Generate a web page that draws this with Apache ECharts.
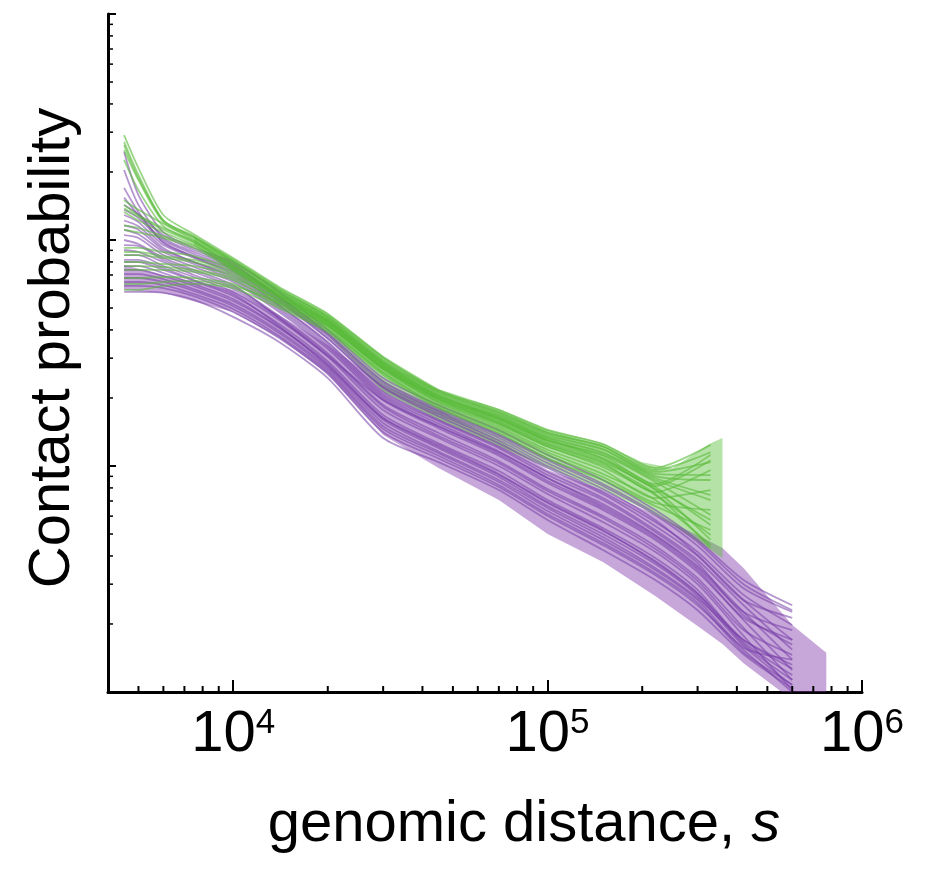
<!DOCTYPE html>
<html>
<head>
<meta charset="utf-8">
<script src="https://cdn.jsdelivr.net/npm/echarts@6/dist/echarts.min.js"></script>
<style>
  html, body { margin: 0; padding: 0; background: #ffffff; }
  #chart { width: 930px; height: 870px; }
</style>
</head>
<body>
<div id="chart"></div>
<script>
// ---------- data ----------
const xGreen = [4500, 5000, 6000, 7500, 10000, 14000, 20000, 30000, 45000, 70000, 100000, 150000, 220000, 330000];
const xPurple = [4500, 5000, 6000, 7500, 10000, 14000, 20000, 30000, 45000, 70000, 100000, 150000, 220000, 300000, 420000, 600000];

const green01 = [0.291, 0.208, 0.129, 0.106, 0.0833, 0.0620, 0.0471, 0.0304, 0.0217, 0.0177, 0.0144, 0.0125, 0.0098, 0.0124];
const green02 = [0.272, 0.194, 0.122, 0.104, 0.0816, 0.0607, 0.0457, 0.0294, 0.0213, 0.0172, 0.0140, 0.0122, 0.00941, 0.0104];
const green03 = [0.250, 0.184, 0.120, 0.102, 0.0799, 0.0595, 0.0452, 0.0288, 0.0208, 0.0168, 0.0136, 0.0118, 0.00903, 0.00867];
const green04 = [0.150, 0.136, 0.118, 0.100, 0.0791, 0.0589, 0.0443, 0.0285, 0.0204, 0.0165, 0.0133, 0.0114, 0.00867, 0.00707];
const green05 = [0.143, 0.129, 0.113, 0.0980, 0.0775, 0.0577, 0.0439, 0.0280, 0.0202, 0.0162, 0.0130, 0.0111, 0.00833, 0.0112];
const green06 = [0.133, 0.122, 0.108, 0.0950, 0.0752, 0.0565, 0.0430, 0.0277, 0.0198, 0.0158, 0.0127, 0.0106, 0.00791, 0.00577];
const green07 = [0.0922, 0.0922, 0.0885, 0.0849, 0.0737, 0.0554, 0.0425, 0.0272, 0.0196, 0.0155, 0.0124, 0.0103, 0.00767, 0.00960];
const green08 = [0.0858, 0.0858, 0.0833, 0.0799, 0.0707, 0.0543, 0.0417, 0.0269, 0.0192, 0.0152, 0.0122, 0.00990, 0.00744, 0.00495];
const green09 = [0.0799, 0.0799, 0.0783, 0.0767, 0.0693, 0.0532, 0.0412, 0.0266, 0.0190, 0.0149, 0.0118, 0.00960, 0.00722, 0.00783];
const green10 = [0.0737, 0.0737, 0.0737, 0.0722, 0.0665, 0.0521, 0.0404, 0.0260, 0.0186, 0.0146, 0.0115, 0.00922, 0.00707, 0.00447];
const green11 = [0.0679, 0.0679, 0.0686, 0.0679, 0.0639, 0.0510, 0.0400, 0.0258, 0.0183, 0.0143, 0.0112, 0.00894, 0.00686, 0.00639];
const green12 = [0.0601, 0.0601, 0.0626, 0.0639, 0.0613, 0.0500, 0.0392, 0.0253, 0.0180, 0.0140, 0.0108, 0.00867, 0.00665, 0.00521];
const green13 = [0.226, 0.166, 0.115, 0.0990, 0.0767, 0.0571, 0.0434, 0.0274, 0.0200, 0.0160, 0.0129, 0.0108, 0.00816, 0.0106];
const green14 = [0.111, 0.108, 0.102, 0.0922, 0.0737, 0.0559, 0.0421, 0.0269, 0.0194, 0.0154, 0.0122, 0.0101, 0.00752, 0.00434];
const green15 = [0.263, 0.188, 0.122, 0.103, 0.0807, 0.0601, 0.0461, 0.0300, 0.0215, 0.0174, 0.0141, 0.0122, 0.00960, 0.0115];
const green16 = [0.138, 0.127, 0.111, 0.0970, 0.0767, 0.0583, 0.0447, 0.0291, 0.0211, 0.0170, 0.0138, 0.0119, 0.00922, 0.00912];
const green17 = [0.0885, 0.0885, 0.0849, 0.0816, 0.0722, 0.0559, 0.0434, 0.0283, 0.0204, 0.0166, 0.0134, 0.0115, 0.00885, 0.00744];
const green18 = [0.0767, 0.0767, 0.0760, 0.0737, 0.0679, 0.0543, 0.0425, 0.0277, 0.0200, 0.0162, 0.0130, 0.0112, 0.00849, 0.00607];
const green19 = [0.116, 0.113, 0.104, 0.0941, 0.0752, 0.0571, 0.0439, 0.0285, 0.0206, 0.0163, 0.0132, 0.0108, 0.00807, 0.00548];
const green20 = [0.0639, 0.0639, 0.0652, 0.0659, 0.0626, 0.0526, 0.0417, 0.0272, 0.0198, 0.0156, 0.0125, 0.0104, 0.00783, 0.00471];

const purple01 = [0.245, 0.158, 0.108, 0.0922, 0.0799, 0.0589, 0.0400, 0.0245, 0.0186, 0.0144, 0.0112, 0.00867, 0.00639, 0.00471, 0.00313, 0.00242];
const purple02 = [0.204, 0.143, 0.102, 0.0885, 0.0767, 0.0565, 0.0383, 0.0235, 0.0177, 0.0136, 0.0106, 0.00816, 0.00607, 0.00443, 0.00288, 0.00226];
const purple03 = [0.170, 0.133, 0.0970, 0.0849, 0.0737, 0.0543, 0.0368, 0.0224, 0.0170, 0.0130, 0.0100, 0.00767, 0.00565, 0.00417, 0.00269, 0.00198];
const purple04 = [0.143, 0.130, 0.105, 0.0903, 0.0783, 0.0554, 0.0376, 0.0230, 0.0174, 0.0133, 0.0103, 0.00791, 0.00577, 0.00404, 0.00255, 0.00170];
const purple05 = [0.129, 0.120, 0.0950, 0.0833, 0.0707, 0.0516, 0.0354, 0.0213, 0.0160, 0.0122, 0.00941, 0.00722, 0.00521, 0.00383, 0.00242, 0.00154];
const purple06 = [0.116, 0.111, 0.0903, 0.0799, 0.0679, 0.0500, 0.0343, 0.0204, 0.0154, 0.0116, 0.00885, 0.00679, 0.00495, 0.00361, 0.00226, 0.00139];
const purple07 = [0.105, 0.102, 0.0858, 0.0760, 0.0652, 0.0480, 0.0329, 0.0196, 0.0147, 0.0111, 0.00841, 0.00639, 0.00471, 0.00339, 0.00208, 0.00125];
const purple08 = [0.0950, 0.0941, 0.0816, 0.0722, 0.0620, 0.0461, 0.0316, 0.0186, 0.0140, 0.0105, 0.00791, 0.00601, 0.00443, 0.00319, 0.00192, 0.00113];
const purple09 = [0.0858, 0.0858, 0.0767, 0.0686, 0.0589, 0.0443, 0.0304, 0.0177, 0.0133, 0.0100, 0.00752, 0.00565, 0.00417, 0.00300, 0.00177, 0.00102];
const purple10 = [0.0799, 0.0799, 0.0737, 0.0659, 0.0565, 0.0425, 0.0291, 0.0168, 0.0126, 0.00950, 0.00707, 0.00532, 0.00392, 0.00283, 0.00166, 0.00119];
const purple11 = [0.0737, 0.0737, 0.0693, 0.0626, 0.0537, 0.0408, 0.0280, 0.0160, 0.0120, 0.00894, 0.00665, 0.00500, 0.00368, 0.00266, 0.00160, 0.00107];
const purple12 = [0.0679, 0.0679, 0.0652, 0.0595, 0.0510, 0.0388, 0.0266, 0.0150, 0.0114, 0.00849, 0.00632, 0.00471, 0.00347, 0.00255, 0.00157, 0.00139];
const purple13 = [0.0626, 0.0626, 0.0613, 0.0565, 0.0480, 0.0368, 0.0255, 0.0141, 0.0108, 0.00807, 0.00601, 0.00447, 0.00329, 0.00242, 0.00154, 0.00100];
const purple14 = [0.0589, 0.0589, 0.0583, 0.0543, 0.0457, 0.0354, 0.0245, 0.0133, 0.0104, 0.00783, 0.00577, 0.00425, 0.00313, 0.00230, 0.00147, 0.00104];
const purple15 = [0.100, 0.0960, 0.0833, 0.0737, 0.0632, 0.0452, 0.0307, 0.0196, 0.0150, 0.0115, 0.00885, 0.00665, 0.00490, 0.00354, 0.00226, 0.00188];
const purple16 = [0.0816, 0.0816, 0.0752, 0.0665, 0.0577, 0.0417, 0.0277, 0.0163, 0.0124, 0.00922, 0.00693, 0.00521, 0.00376, 0.00272, 0.00170, 0.00127];
const purple17 = [0.154, 0.129, 0.100, 0.0867, 0.0752, 0.0559, 0.0388, 0.0238, 0.0180, 0.0138, 0.0108, 0.00833, 0.00620, 0.00461, 0.00300, 0.00230];
const purple18 = [0.136, 0.125, 0.0980, 0.0841, 0.0722, 0.0532, 0.0365, 0.0222, 0.0166, 0.0126, 0.00980, 0.00752, 0.00543, 0.00400, 0.00255, 0.00213];
const purple19 = [0.122, 0.115, 0.0922, 0.0799, 0.0693, 0.0510, 0.0350, 0.0208, 0.0158, 0.0120, 0.00912, 0.00707, 0.00510, 0.00372, 0.00219, 0.00162];
const purple20 = [0.0903, 0.0885, 0.0799, 0.0700, 0.0607, 0.0452, 0.0310, 0.0183, 0.0136, 0.0103, 0.00775, 0.00589, 0.00430, 0.00310, 0.00188, 0.00146];
const purple21 = [0.0767, 0.0767, 0.0714, 0.0639, 0.0548, 0.0412, 0.0285, 0.0163, 0.0122, 0.00912, 0.00686, 0.00516, 0.00380, 0.00274, 0.00163, 0.00113];
const purple22 = [0.0707, 0.0707, 0.0672, 0.0607, 0.0521, 0.0396, 0.0272, 0.0155, 0.0116, 0.00867, 0.00652, 0.00485, 0.00354, 0.00260, 0.00170, 0.00132];
const purple23 = [0.0652, 0.0652, 0.0632, 0.0577, 0.0495, 0.0376, 0.0260, 0.0146, 0.0111, 0.00824, 0.00613, 0.00457, 0.00336, 0.00248, 0.00150, 0.00108];
const purple24 = [0.111, 0.106, 0.0885, 0.0783, 0.0665, 0.0490, 0.0336, 0.0200, 0.0150, 0.0113, 0.00858, 0.00652, 0.00480, 0.00347, 0.00213, 0.00170];

const xGreenBand = [7500, 10000, 14000, 20000, 30000, 45000, 70000, 100000, 150000, 200000, 250000, 330000, 360000];
const greenBandUpper = [0.104, 0.0833, 0.0620, 0.0475, 0.0307, 0.0219, 0.0179, 0.0146, 0.0126, 0.0104, 0.00980, 0.0126, 0.0133];
const greenBandLower = [0.0950, 0.0722, 0.0516, 0.0380, 0.0213, 0.0160, 0.0122, 0.00980, 0.00783, 0.00652, 0.00548, 0.00425, 0.00392];

const xPurpleBand = [4500, 6000, 10000, 14000, 20000, 30000, 45000, 70000, 100000, 150000, 220000, 300000, 360000, 420000, 600000, 770000];
const purpleBandUpper = [0.0775, 0.0700, 0.0601, 0.0466, 0.0343, 0.0228, 0.0177, 0.0130, 0.00960, 0.00783, 0.00607, 0.00495, 0.00434, 0.00354, 0.00198, 0.00149];
const purpleBandLower = [0.0601, 0.0583, 0.0480, 0.0368, 0.0255, 0.0137, 0.00980, 0.00707, 0.00500, 0.00376, 0.00266, 0.00196, 0.00163, 0.00134, 0.000922, 0.000679];

const xMinorTicks = [5000, 6000, 7000, 8000, 9000, 20000, 30000, 40000, 50000, 60000, 70000, 80000, 90000,
                     200000, 300000, 400000, 500000, 600000, 700000, 800000, 900000];
const yMinorTicks = [0.002, 0.003, 0.004, 0.005, 0.006, 0.007, 0.008, 0.009,
                     0.02, 0.03, 0.04, 0.05, 0.06, 0.07, 0.08, 0.09,
                     0.2, 0.3, 0.4, 0.5, 0.6, 0.7, 0.8, 0.9];

const X_MIN = 4000, X_MAX = 1000000, Y_MIN = 0.001, Y_MAX = 1;

const greenLines = [green01, green02, green03, green04, green05, green06, green07, green08, green09, green10,
                    green11, green12, green13, green14, green15, green16, green17, green18, green19, green20];
const purpleLines = [purple01, purple02, purple03, purple04, purple05, purple06, purple07, purple08, purple09, purple10, purple11, purple12,
                     purple13, purple14, purple15, purple16, purple17, purple18, purple19, purple20, purple21, purple22, purple23, purple24];

// ---------- build option ----------
const FONT = "'Liberation Sans', Arial, Helvetica, sans-serif";
const zip = (xs, ys) => xs.map((x, i) => [x, ys[i]]);

// Band: polygon between lower and upper, placed through the axes (api.coord)
function bandSeries(xs, lower, upper, color) {
  return {
    type: 'custom', coordinateSystem: 'cartesian2d', silent: true,
    data: xs.map((x, i) => [x, lower[i], upper[i]]),
    encode: { x: 0, y: [1, 2] },
    renderItem: (params, api) => {
      if (params.dataIndex !== 0) return null;
      const top = xs.map((x, i) => api.coord([x, upper[i]]));
      const bot = xs.map((x, i) => api.coord([x, lower[i]])).reverse();
      const cs = params.coordSys;
      return {
        type: 'group',
        clipPath: { type: 'rect', shape: { x: cs.x, y: cs.y, width: cs.width, height: cs.height } },
        children: [{
          type: 'polygon',
          shape: { points: top.concat(bot) },
          style: { fill: color, stroke: null }
        }]
      };
    }
  };
}

function lineSeries(xs, ys, color) {
  return {
    type: 'line', data: zip(xs, ys), showSymbol: false, symbol: 'none', silent: true,
    smooth: 0.25,
    lineStyle: { color: color, width: 1.8 }
  };
}

const series = [];
series.push(bandSeries(xPurpleBand, purpleBandLower, purpleBandUpper, 'rgba(130,60,170,0.45)'));
purpleLines.forEach(l => series.push(lineSeries(xPurple, l, 'rgba(118,62,168,0.55)')));
series.push(bandSeries(xGreenBand, greenBandLower, greenBandUpper, 'rgba(90,190,60,0.45)'));
greenLines.forEach(l => series.push(lineSeries(xGreen, l, 'rgba(88,186,56,0.6)')));

// minor ticks (log decades 2..9), positioned through the axes
series.push({
  type: 'custom', coordinateSystem: 'cartesian2d', silent: true, clip: false, z: 10,
  data: xMinorTicks.map(v => [v, Y_MIN]),
  renderItem: (params, api) => {
    const p = api.coord([api.value(0), api.value(1)]);
    return { type: 'line', shape: { x1: p[0], y1: p[1], x2: p[0], y2: p[1] - 6 }, style: { stroke: '#000', lineWidth: 2 } };
  }
});
series.push({
  type: 'custom', coordinateSystem: 'cartesian2d', silent: true, clip: false, z: 10,
  data: yMinorTicks.map(v => [X_MIN, v]),
  renderItem: (params, api) => {
    const p = api.coord([api.value(0), api.value(1)]);
    return { type: 'line', shape: { x1: p[0], y1: p[1], x2: p[0] + 5, y2: p[1] }, style: { stroke: '#000', lineWidth: 1.5 } };
  }
});

const option = {
  backgroundColor: '#ffffff',
  animation: false,
  grid: { left: 108, right: 68, top: 14, bottom: 178, containLabel: false },
  xAxis: {
    type: 'log', logBase: 10, min: X_MIN, max: X_MAX,
    axisLine: { onZero: false, lineStyle: { color: '#000', width: 3 } },
    axisTick: { inside: true, length: 12, lineStyle: { color: '#000', width: 2 } },
    splitLine: { show: false },
    axisLabel: {
      margin: 14,
      formatter: v => {
        const e = Math.log10(v);
        const r = Math.round(e);
        if (Math.abs(e - r) > 1e-6) return '';
        return '{b|10}{s|' + r + '}';
      },
      rich: {
        b: { fontSize: 58, lineHeight: 58, fontFamily: FONT, color: '#000' },
        s: { fontSize: 35, lineHeight: 35, fontFamily: FONT, color: '#000', verticalAlign: 'top' }
      }
    },
    name: '{a|genomic distance, }{i|s}',
    nameLocation: 'middle',
    nameGap: 104,
    nameTextStyle: {
      padding: [0, 0, 0, 78],
      rich: {
        a: { fontSize: 58, lineHeight: 58, fontFamily: FONT, color: '#000' },
        i: { fontSize: 58, lineHeight: 58, fontFamily: FONT, color: '#000', fontStyle: 'italic' }
      }
    }
  },
  yAxis: {
    type: 'log', logBase: 10, min: Y_MIN, max: Y_MAX,
    axisLine: { onZero: false, lineStyle: { color: '#000', width: 3 } },
    axisTick: { inside: true, length: 8, lineStyle: { color: '#000', width: 2 } },
    axisLabel: { show: false },
    splitLine: { show: false },
    name: 'Contact probability',
    nameLocation: 'middle',
    nameRotate: 90,
    nameGap: 26,
    nameTextStyle: { fontSize: 58, fontFamily: FONT, color: '#000', padding: [0, 0, 0, 10] }
  },
  series: series
};

const chart = echarts.init(document.getElementById('chart'), null, { renderer: 'canvas' });
chart.setOption(option);
</script>
</body>
</html>
